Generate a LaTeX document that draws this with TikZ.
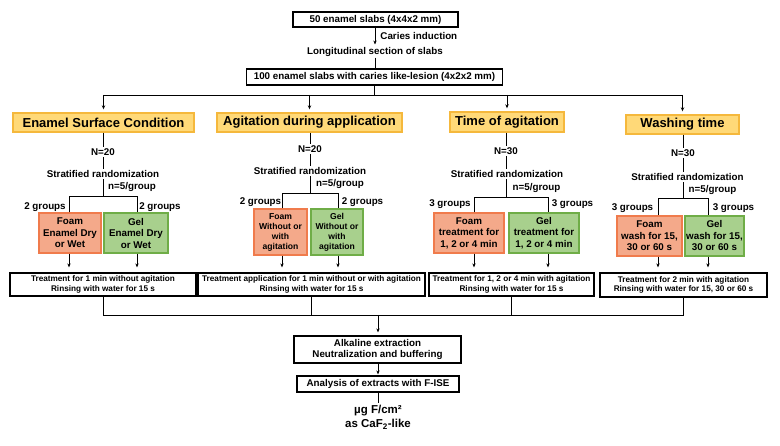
\documentclass[tikz,border=0pt]{standalone}
\usepackage{fontspec}
\setmainfont{Liberation Sans}
\usepackage{xcolor}
\definecolor{catfill}{RGB}{255, 217, 120}
\definecolor{catline}{RGB}{245, 184, 60}
\definecolor{foamfill}{RGB}{244, 169, 138}
\definecolor{foamline}{RGB}{240, 123, 76}
\definecolor{gelfill}{RGB}{168, 208, 141}
\definecolor{gelline}{RGB}{111, 173, 71}
\usepackage{tikz}
\usetikzlibrary{arrows.meta, positioning}

\begin{document}
\begin{tikzpicture}[x=1pt, y=-1pt, >={Stealth[length=4pt, width=3.4pt]}, line width=0.9pt,
    txt/.style={inner sep=1pt, align=center, font=\bfseries\fontsize{9.8}{11.5}\selectfont},
    slabbox/.style={draw, line width=1.2pt, inner sep=0pt, align=center, font=\bfseries\fontsize{9.8}{11.5}\selectfont},
    smalltxt/.style={font=\bfseries\fontsize{8.2}{9.5}\selectfont},
    catbox/.style={draw=catline, fill=catfill, line width=1.4pt, inner sep=0pt, font=\bfseries\fontsize{13}{15}\selectfont},
    foambox/.style={draw=foamline, fill=foamfill, line width=1.3pt, inner sep=0pt, align=center, font=\bfseries\fontsize{9.8}{11.5}\selectfont},
    gelbox/.style={draw=gelline, fill=gelfill, line width=1.3pt, inner sep=0pt, align=center, font=\bfseries\fontsize{9.8}{11.5}\selectfont}]
    \useasboundingbox (0,0) rectangle (780,446);

    \node[slabbox, minimum width=165, minimum height=15] (top) at (375.5,19.5) {50 enamel slabs (4x4x2 mm)};
    \node[txt, anchor=west] (induct) at (379,36.5) {Caries induction};
    \node[txt] (sect) at (375,51.5) {Longitudinal section of slabs};
    \node[slabbox, minimum width=256, minimum height=16] (lesion) at (374.5,77) {100 enamel slabs with caries like-lesion (4x2x2 mm)};
    \draw[->, shorten >=1pt] (sect.north |- top.south) -- (sect.north);
    \draw (sect.south) -- (sect.south |- lesion.north);

    \node[catbox, minimum width=181, minimum height=19] (cat1) at (103.5,122.5) {Enamel Surface Condition};
    \node[catbox, minimum width=185, minimum height=19] (cat2) at (309.5,122.5) {Agitation during application};
    \node[catbox, minimum width=114, minimum height=20] (cat3) at (507,122) {Time of agitation};
    \node[catbox, minimum width=113, minimum height=19] (cat4) at (682.5,124.5) {Washing time};
    \coordinate (bus) at (375,95);
    \draw (lesion.south) -- (lesion.south |- bus);
    \draw (cat1.north |- bus) -- (cat4.north |- bus);
    \foreach \c in {cat1,cat2,cat3,cat4}
        \draw[->, shorten >=3pt] (\c.north |- bus) -- (\c.north);

    % enamel surface condition
    \node[txt] (n1) at (103,152) {N=20};
    \node[txt] (r1) at (103,174) {Stratified randomization};
    \node[txt] (k1) at (132,187) {n=5/group};
    \node[txt] (l1) at (45,207) {2 groups};
    \node[txt] (m1) at (160,207) {2 groups};
    \node[foambox, minimum width=62, minimum height=40] (f1) at (70,233) {Foam\\Enamel Dry\\or Wet};
    \node[gelbox, minimum width=64, minimum height=40] (g1) at (136,233) {Gel\\Enamel Dry\\or Wet};
    \node[slabbox, smalltxt, minimum width=186, minimum height=23] (t1) at (103,284.5) {Treatment for 1 min without agitation\\Rinsing with water for 15 s};
    \coordinate (b1) at (103,196);
    \coordinate (bl1) at (69,196);
    \coordinate (br1) at (137,196);

    % agitation during application
    \node[txt] (n2) at (310,149) {N=20};
    \node[txt] (r2) at (310,171) {Stratified randomization};
    \node[txt] (k2) at (340,184) {n=5/group};
    \node[txt] (l2) at (260.5,202) {2 groups};
    \node[txt] (m2) at (362.5,202) {2 groups};
    \node[foambox, font=\bfseries\fontsize{8.6}{10}\selectfont, minimum width=53, minimum height=46] (f2) at (280.5,232) {Foam\\Without or\\with\\agitation};
    \node[gelbox, font=\bfseries\fontsize{8.6}{10}\selectfont, minimum width=52, minimum height=46] (g2) at (337,232) {Gel\\Without or\\with\\agitation};
    \node[slabbox, smalltxt, minimum width=227, minimum height=23] (t2) at (311.5,284.5) {Treatment application for 1 min without or with agitation\\Rinsing with water for 15 s};
    \coordinate (b2) at (310,193);
    \coordinate (bl2) at (282,193);
    \coordinate (br2) at (338,193);

    % time of agitation
    \node[txt] (n3) at (506,151) {N=30};
    \node[txt] (r3) at (507,174) {Stratified randomization};
    \node[txt] (k3) at (536.5,188) {n=5/group};
    \node[txt] (l3) at (450,204) {3 groups};
    \node[txt] (m3) at (572.5,204) {3 groups};
    \node[foambox, minimum width=70, minimum height=40] (f3) at (469,233) {Foam\\treatment for\\1, 2 or 4 min};
    \node[gelbox, minimum width=70, minimum height=40] (g3) at (544,233) {Gel\\treatment for\\1, 2 or 4 min};
    \node[slabbox, smalltxt, minimum width=165, minimum height=23] (t3) at (511.5,284.5) {Treatment for 1, 2 or 4 min with agitation\\Rinsing with water for 15 s};
    \coordinate (b3) at (506,197);
    \coordinate (bl3) at (474,197);
    \coordinate (br3) at (548,197);

    % washing time
    \node[txt] (n4) at (683,153) {N=30};
    \node[txt] (r4) at (687.5,177) {Stratified randomization};
    \node[txt] (k4) at (712.5,190) {n=5/group};
    \node[txt] (l4) at (632.5,208) {3 groups};
    \node[txt] (m4) at (733.5,208) {3 groups};
    \node[foambox, minimum width=65, minimum height=40] (f4) at (649.5,236) {Foam\\wash for 15,\\30 or 60 s};
    \node[gelbox, minimum width=59, minimum height=40] (g4) at (714.5,236) {Gel\\wash for 15,\\30 or 60 s};
    \node[slabbox, smalltxt, minimum width=167, minimum height=24] (t4) at (683.5,285) {Treatment for 2 min with agitation\\Rinsing with water for 15, 30 or 60 s};
    \coordinate (b4) at (683,198);
    \coordinate (bl4) at (658,198);
    \coordinate (br4) at (708,198);

    \foreach \i in {1,2,3,4} {
        \draw (n\i.north |- cat\i.south) -- (n\i.north);
        \draw (n\i.south) -- (n\i.south |- r\i.north);
        \draw (b\i |- r\i.south) -- (b\i);
        \draw (bl\i |- f\i.north) -- (bl\i) -- (br\i) -- (br\i |- g\i.north);
        \draw[->, shorten >=5pt] (bl\i |- f\i.south) -- (bl\i |- t\i.north);
        \draw[->, shorten >=5pt] (br\i |- g\i.south) -- (br\i |- t\i.north);
    }

    \node[slabbox, minimum width=167, minimum height=27] (alk) at (377.5,349.5) {Alkaline extraction\\Neutralization and buffering};
    \node[slabbox, minimum width=162, minimum height=16] (ana) at (378,384) {Analysis of extracts with F-ISE};
    \node[txt, font=\bfseries\fontsize{11.5}{14}\selectfont] (res) at (378,417) {µg F/cm²\\as CaF\textsubscript{2}-like};
    \coordinate (fin) at (378,315);
    \draw (t1.south) -- (t1.south |- fin) -- (t4.south |- fin) -- (t4.south);
    \draw (t2.south) -- (t2.south |- fin);
    \draw (t3.south) -- (t3.south |- fin);
    \draw[->, shorten >=3pt] (fin) -- (fin |- alk.north);
    \draw[->, shorten >=1pt] (ana.north |- alk.south) -- (ana.north);
    \draw (ana.south) -- (res.north);
\end{tikzpicture}
\end{document}
